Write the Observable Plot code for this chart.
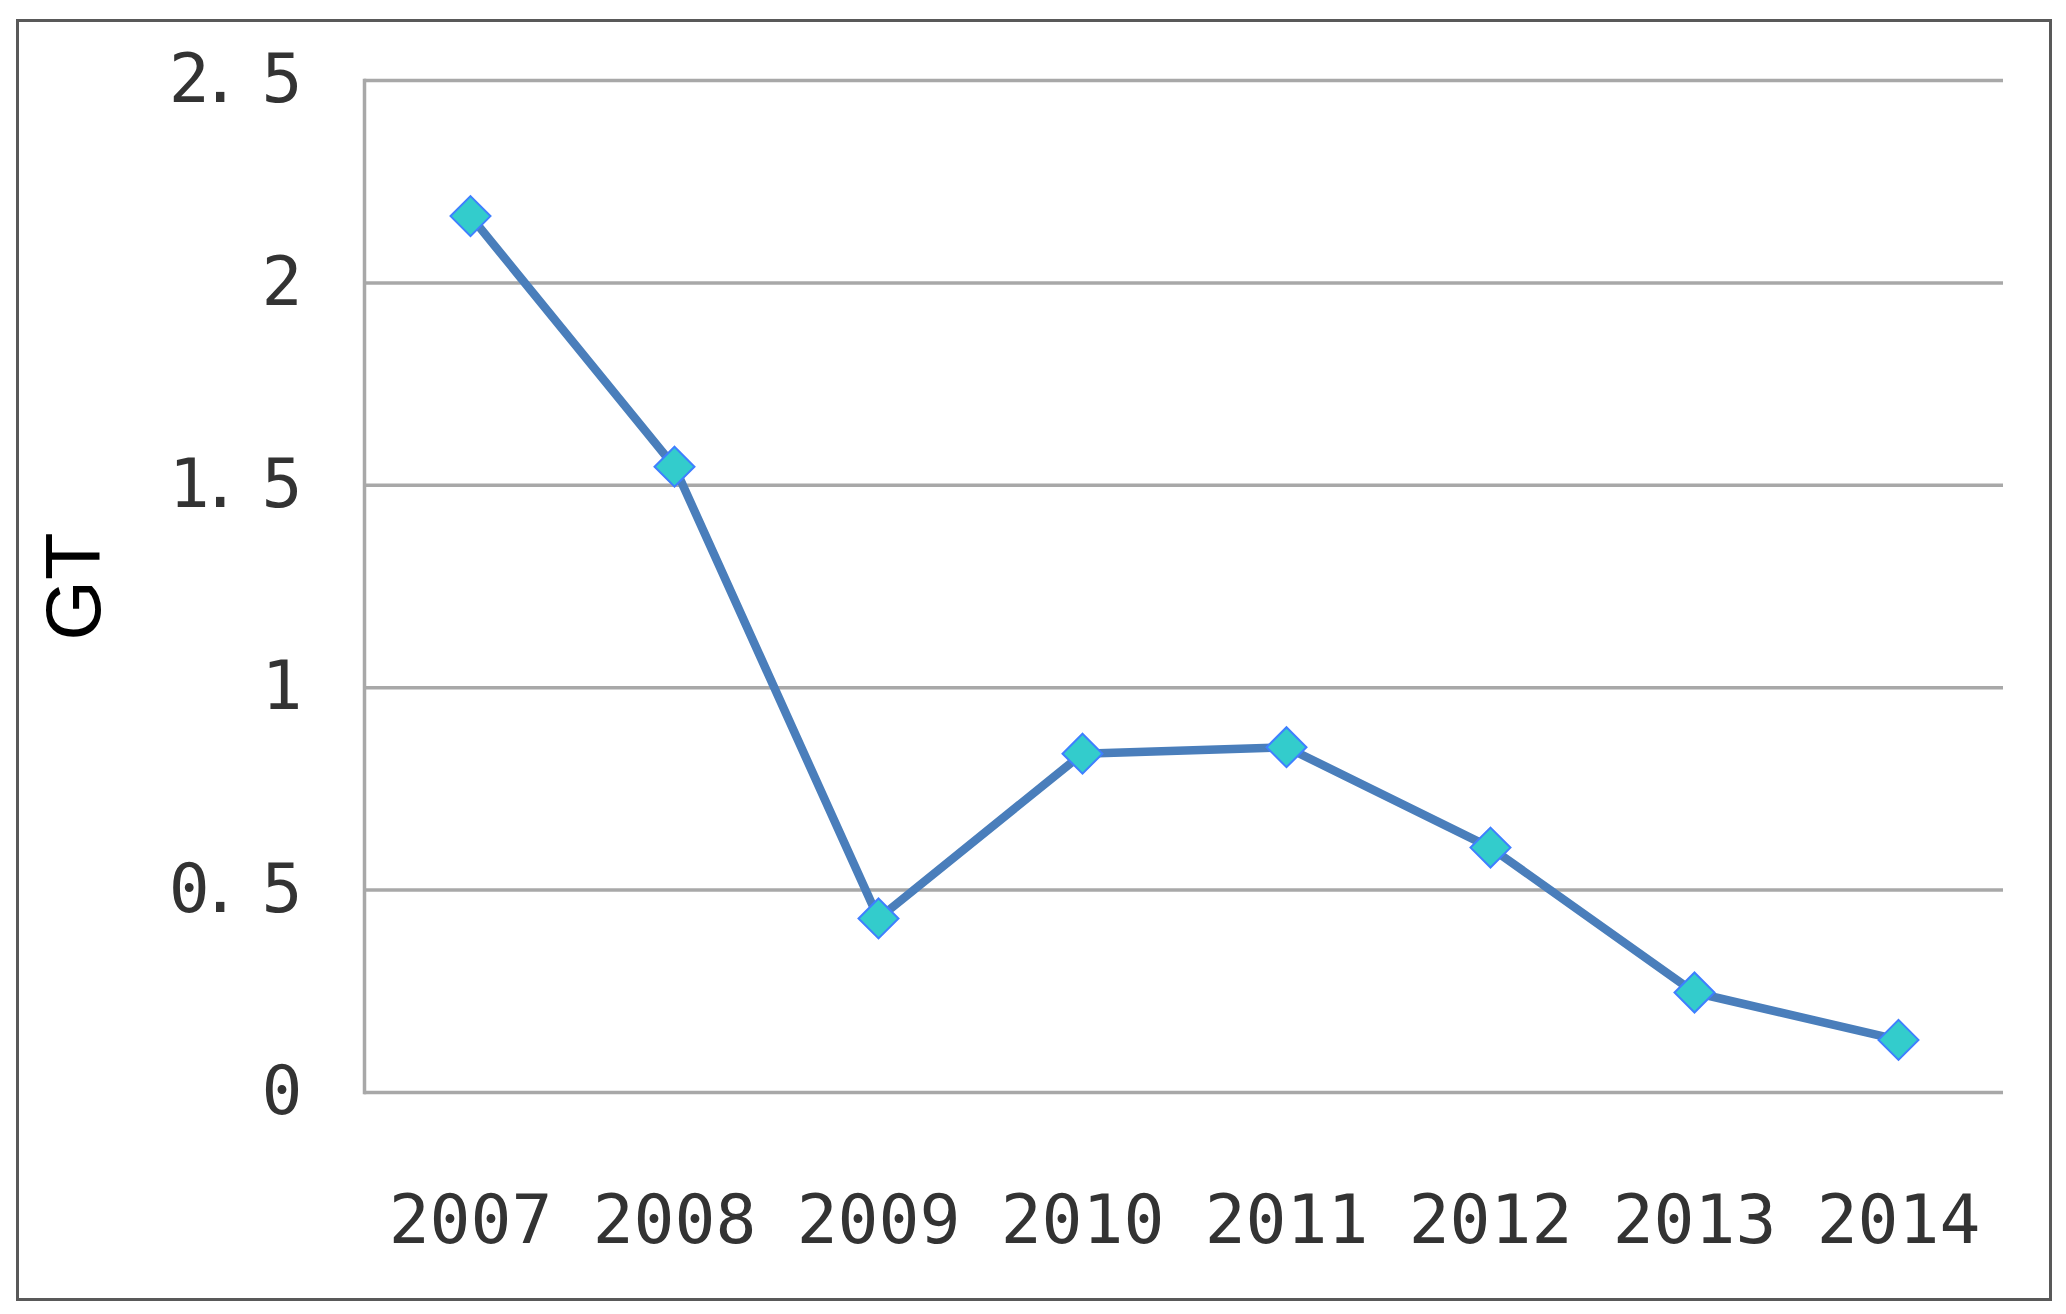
<!DOCTYPE html>
<html>
<head>
<meta charset="utf-8">
<script src="https://cdn.jsdelivr.net/npm/d3@7"></script>
<script src="https://cdn.jsdelivr.net/npm/@observablehq/plot@0.6"></script>
<style>
  html, body { margin: 0; padding: 0; background: #fff; }
  #wrap { position: relative; width: 2066px; height: 1314px; }
  #border { position: absolute; left: 16px; top: 19px; width: 2030px; height: 1276px; border: 3px solid #595959; pointer-events: none; }
  g[aria-label="y-axis tick label"] text { letter-spacing: -10px; }
  g[aria-label="y-axis label"] text { font-family: "Liberation Sans", Arial, sans-serif; font-size: 78px; fill: #000; }
</style>
</head>
<body>
<div id="wrap"><div id="border"></div></div>
<script>
const years = ["2007", "2008", "2009", "2010", "2011", "2012", "2013", "2014"];
const gtValues = [2.165, 1.546, 0.43, 0.837, 0.853, 0.605, 0.247, 0.13];
const yTicks = [0, 0.5, 1, 1.5, 2, 2.5];
const yTickLabels = ["0", "0. 5", "1", "1. 5", "2", "2. 5"];
const yLabel = "GT";

const data = years.map((year, i) => ({year, value: gtValues[i]}));

const chart = Plot.plot({
  width: 2066,
  height: 1314,
  marginLeft: 364,
  marginRight: 63,
  marginTop: 80,
  marginBottom: 222,
  style: {fontFamily: "'DejaVu Sans Mono', monospace", fontSize: "68px", color: "#333", background: "transparent"},
  x: {type: "point", domain: years, padding: 0.5},
  y: {domain: [0, 2.5]},
  marks: [
    Plot.ruleY(yTicks, {stroke: "#a8a8a8", strokeWidth: 3.5}),
    Plot.frame({anchor: "left", stroke: "#a8a8a8", strokeWidth: 3.5}),
    Plot.axisX({tickSize: 0, tickPadding: 102, label: null, fontSize: 68}),
    Plot.axisY({ticks: yTicks, tickFormat: (d) => yTickLabels[yTicks.indexOf(d)], tickSize: 0, tickPadding: 72, fontSize: 68,
      label: yLabel, labelAnchor: "center", labelArrow: "none", labelOffset: 320}),
    Plot.line(data, {x: "year", y: "value", stroke: "#4A7EBB", strokeWidth: 8.5}),
    Plot.dot(data, {x: "year", y: "value", symbol: "diamond2", r: 18, fill: "#33CCCC", stroke: "#3F7FFF", strokeWidth: 2})
  ]
});
document.getElementById("wrap").prepend(chart);
</script>
</body>
</html>
